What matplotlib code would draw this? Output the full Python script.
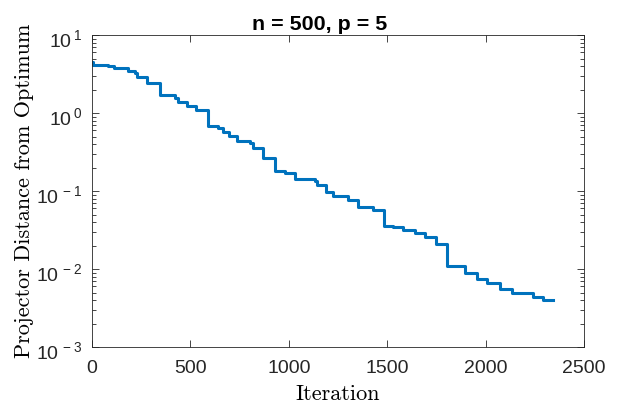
import math
import matplotlib.pyplot as plt
import matplotlib.transforms as mtransforms
from matplotlib.ticker import LogLocator, NullFormatter, FuncFormatter

plt.rcParams['font.family'] = ['Liberation Sans', 'DejaVu Sans']

# step breakpoints (iteration, distance)
iters = [0, 7, 83, 113, 185, 218, 230, 278, 344, 422, 435, 481, 528, 591,
         642, 667, 696, 735, 803, 820, 867, 930, 981, 1031, 1133, 1145,
         1187, 1223, 1303, 1354, 1430, 1484, 1531, 1579, 1641, 1692, 1748,
         1805, 1895, 1958, 2005, 2073, 2133, 2242, 2290, 2345]
dist = [4.5, 4.2, 4.0, 3.74, 3.48, 3.23, 2.87, 2.4, 1.70, 1.57, 1.37, 1.23,
        1.09, 0.68, 0.637, 0.565, 0.507, 0.44, 0.41, 0.36, 0.262, 0.182,
        0.172, 0.143, 0.134, 0.119, 0.098, 0.0863, 0.078, 0.063, 0.057,
        0.036, 0.035, 0.0316, 0.0287, 0.0255, 0.0209, 0.011, 0.0088,
        0.00736, 0.00654, 0.00548, 0.00487, 0.00433, 0.0040, 0.0040]

xticks = [0, 500, 1000, 1500, 2000, 2500]

fig = plt.figure(figsize=(6.17, 4.04), dpi=100)
ax = fig.add_axes([0.149, 0.141, 0.7975, 0.772])

ax.plot(iters, dist, drawstyle='steps-post', color=(0, 0.447, 0.741), lw=2.2)

ax.set_yscale('log')
ax.set_xlim(0, 2500)
ax.set_ylim(1e-3, 1e1)
ax.set_xticks(xticks)
ax.yaxis.set_minor_locator(LogLocator(base=10, subs=range(2, 10)))
ax.yaxis.set_minor_formatter(NullFormatter())
ax.yaxis.set_major_formatter(
    FuncFormatter(lambda v, pos: r'$\mathregular{10^{\,%d}}$' % round(math.log10(v))))

ax.tick_params(which='both', direction='in', top=True, right=True,
               colors='0.15', labelcolor='0.15', labelsize=14, width=0.6)
ax.tick_params(which='major', length=5)
ax.tick_params(which='minor', length=3)
ax.tick_params(axis='x', pad=9.5)
ax.tick_params(axis='y', pad=7)
for s in ax.spines.values():
    s.set_color('0.15')
    s.set_linewidth(0.6)

# MATLAB puts the base of the log labels a little below the tick
shift = mtransforms.ScaledTranslation(0, -3 / 100, fig.dpi_scale_trans)
for lab in ax.get_yticklabels():
    lab.set_transform(lab.get_transform() + shift)

ax.set_title('n = 500, p = 5', fontsize=15.4, fontweight='bold', pad=4, x=0.463)
ax.set_xlabel('Iteration', fontname='cmr10', fontsize=16, labelpad=5)
ax.set_ylabel('Projector Distance from Optimum', fontname='cmr10', fontsize=16,
              labelpad=1.5)

fig.savefig('out.png', dpi=100)
